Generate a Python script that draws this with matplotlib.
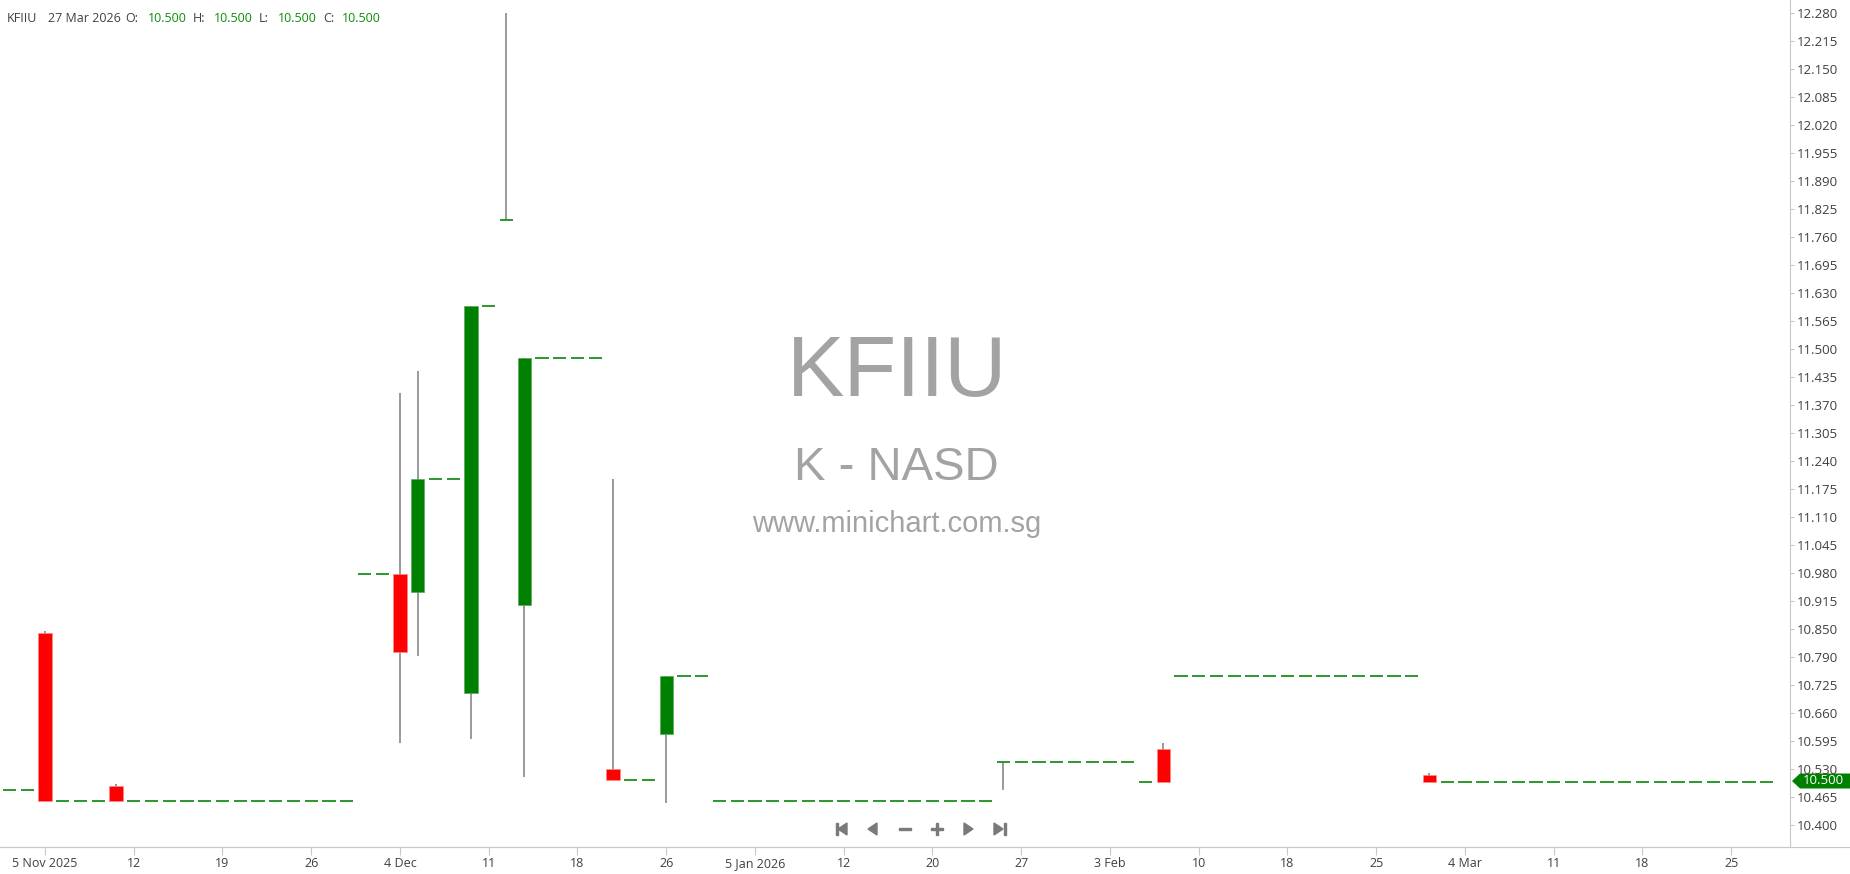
import numpy as np
import matplotlib
matplotlib.use("Agg")
import matplotlib.pyplot as plt
from matplotlib.patches import Rectangle, Polygon

# ---------------------------------------------------------------
# KFIIU daily OHLC, one entry per trading day (3 Nov 2025 .. 27 Mar 2026)
# ---------------------------------------------------------------
opens = [
    # Nov
    10.48, 10.48, 10.845, 10.455, 10.455, 10.455, 10.49, 10.455, 10.455, 10.455,
    10.455, 10.455, 10.455, 10.455, 10.455, 10.455, 10.455, 10.455, 10.455,
    # Dec
    10.455, 10.98, 10.98, 10.98, 10.94, 11.20, 11.20, 10.705, 11.60, 11.80,
    10.91, 11.48, 11.48, 11.48, 11.48, 10.53, 10.505, 10.505, 10.61, 10.745,
    10.745, 10.455,
    # Jan
    10.455, 10.455, 10.455, 10.455, 10.455, 10.455, 10.455, 10.455, 10.455, 10.455,
    10.455, 10.455, 10.455, 10.455, 10.455, 10.545, 10.545, 10.545, 10.545, 10.545,
    # Feb
    10.545, 10.545, 10.545, 10.50, 10.575, 10.745, 10.745, 10.745, 10.745, 10.745,
    10.745, 10.745, 10.745, 10.745, 10.745, 10.745, 10.745, 10.745, 10.745,
    # Mar
    10.515, 10.50, 10.50, 10.50, 10.50, 10.50, 10.50, 10.50, 10.50, 10.50,
    10.50, 10.50, 10.50, 10.50, 10.50, 10.50, 10.50, 10.50, 10.50, 10.50,
]
highs = [
    10.48, 10.48, 10.85, 10.455, 10.455, 10.455, 10.495, 10.455, 10.455, 10.455,
    10.455, 10.455, 10.455, 10.455, 10.455, 10.455, 10.455, 10.455, 10.455,
    10.455, 10.98, 10.98, 11.40, 11.45, 11.20, 11.20, 11.60, 11.60, 12.28,
    11.48, 11.48, 11.48, 11.48, 11.48, 11.20, 10.505, 10.505, 10.745, 10.745,
    10.745, 10.455,
    10.455, 10.455, 10.455, 10.455, 10.455, 10.455, 10.455, 10.455, 10.455, 10.455,
    10.455, 10.455, 10.455, 10.455, 10.455, 10.545, 10.545, 10.545, 10.545, 10.545,
    10.545, 10.545, 10.545, 10.50, 10.59, 10.745, 10.745, 10.745, 10.745, 10.745,
    10.745, 10.745, 10.745, 10.745, 10.745, 10.745, 10.745, 10.745, 10.745,
    10.52, 10.50, 10.50, 10.50, 10.50, 10.50, 10.50, 10.50, 10.50, 10.50,
    10.50, 10.50, 10.50, 10.50, 10.50, 10.50, 10.50, 10.50, 10.50, 10.50,
]
lows = [
    10.48, 10.48, 10.455, 10.455, 10.455, 10.455, 10.455, 10.455, 10.455, 10.455,
    10.455, 10.455, 10.455, 10.455, 10.455, 10.455, 10.455, 10.455, 10.455,
    10.455, 10.98, 10.98, 10.59, 10.79, 11.20, 11.20, 10.60, 11.60, 11.80,
    10.51, 11.48, 11.48, 11.48, 11.48, 10.505, 10.505, 10.505, 10.45, 10.745,
    10.745, 10.455,
    10.455, 10.455, 10.455, 10.455, 10.455, 10.455, 10.455, 10.455, 10.455, 10.455,
    10.455, 10.455, 10.455, 10.455, 10.455, 10.48, 10.545, 10.545, 10.545, 10.545,
    10.545, 10.545, 10.545, 10.50, 10.50, 10.745, 10.745, 10.745, 10.745, 10.745,
    10.745, 10.745, 10.745, 10.745, 10.745, 10.745, 10.745, 10.745, 10.745,
    10.50, 10.50, 10.50, 10.50, 10.50, 10.50, 10.50, 10.50, 10.50, 10.50,
    10.50, 10.50, 10.50, 10.50, 10.50, 10.50, 10.50, 10.50, 10.50, 10.50,
]
closes = [
    10.48, 10.48, 10.455, 10.455, 10.455, 10.455, 10.455, 10.455, 10.455, 10.455,
    10.455, 10.455, 10.455, 10.455, 10.455, 10.455, 10.455, 10.455, 10.455,
    10.455, 10.98, 10.98, 10.80, 11.20, 11.20, 11.20, 11.60, 11.60, 11.80,
    11.48, 11.48, 11.48, 11.48, 11.48, 10.505, 10.505, 10.505, 10.745, 10.745,
    10.745, 10.455,
    10.455, 10.455, 10.455, 10.455, 10.455, 10.455, 10.455, 10.455, 10.455, 10.455,
    10.455, 10.455, 10.455, 10.455, 10.455, 10.545, 10.545, 10.545, 10.545, 10.545,
    10.545, 10.545, 10.545, 10.50, 10.50, 10.745, 10.745, 10.745, 10.745, 10.745,
    10.745, 10.745, 10.745, 10.745, 10.745, 10.745, 10.745, 10.745, 10.745,
    10.50, 10.50, 10.50, 10.50, 10.50, 10.50, 10.50, 10.50, 10.50, 10.50,
    10.50, 10.50, 10.50, 10.50, 10.50, 10.50, 10.50, 10.50, 10.50, 10.50,
]

# x axis: a label every 5 sessions
xtick_bars = [2, 7, 12, 17, 22, 27, 32, 37, 42, 47, 52, 57, 62, 67, 72, 77, 82, 87, 92, 97]
xtick_labels = ["5 Nov 2025", "12", "19", "26", "4 Dec", "11", "18", "26",
                "5 Jan 2026", "12", "20", "27", "3 Feb", "10", "18", "25",
                "4 Mar", "11", "18", "25"]

# y axis labels, bottom to top
ytick_labels = ["10.400", "10.465", "10.530", "10.595", "10.660", "10.725", "10.790",
                "10.850", "10.915", "10.980", "11.045", "11.110", "11.175", "11.240",
                "11.305", "11.370", "11.435", "11.500", "11.565", "11.630", "11.695",
                "11.760", "11.825", "11.890", "11.955", "12.020", "12.085", "12.150",
                "12.215", "12.280"]

last_close = "10.500"
header_date = "27 Mar 2026"

UP = "#008000"
DOWN = "#ff0000"
WICK = "#7f7f7f"
TXT = "#404040"
VAL = "#0a8f0a"
AXIS = "#c8c8c8"
FONT = "Open Sans"

W, H = 1850, 874
fig = plt.figure(figsize=(W / 100, H / 100), dpi=100)
fig.patch.set_facecolor("white")

ax = fig.add_axes([0, 27 / H, 1790 / W, 847 / H])
ax.set_xlim(-0.535, (1790 - 9.5) / 17.75)
ax.set_ylim(10.349, 12.3093)

# ---- candles ----
body_w = 0.75
for i, (o, h, l, c) in enumerate(zip(opens, highs, lows, closes)):
    if h > l and (h > max(o, c) or l < min(o, c)):
        ax.vlines(i, l, h, color=WICK, lw=1.1, zorder=2)
    if c > o:
        ax.add_patch(Rectangle((i - body_w / 2, o), body_w, c - o, facecolor=UP,
                               edgecolor="#5aa85a", lw=0.5, zorder=3))
    elif c < o:
        ax.add_patch(Rectangle((i - body_w / 2, c), body_w, o - c, facecolor=DOWN,
                               edgecolor="#ff8a8a", lw=0.5, zorder=3))
    else:
        ax.hlines(c, i - body_w / 2, i + body_w / 2, color="#1a8f1a", lw=1.3, zorder=3)

# ---- axes styling ----
for s in ["top", "left"]:
    ax.spines[s].set_visible(False)
ax.spines["right"].set_color(AXIS)
ax.spines["bottom"].set_color(AXIS)

ax.yaxis.tick_right()
ax.set_yticks(np.linspace(10.4, 12.28, len(ytick_labels)))
ax.set_yticklabels(ytick_labels)
ax.tick_params(axis="y", length=3, width=0.8, color=AXIS, pad=2,
               labelsize=9.5, labelcolor=TXT)
ax.set_xticks(xtick_bars)
ax.set_xticklabels(xtick_labels)
ax.tick_params(axis="x", length=5.5, width=0.8, color=AXIS, pad=1.5,
               labelsize=9, labelcolor=TXT)
for lab in ax.get_xticklabels() + ax.get_yticklabels():
    lab.set_fontfamily(FONT)

# ---- overlay in pixel coordinates ----
ov = fig.add_axes([0, 0, 1, 1], zorder=-1)
ov.set_xlim(0, W)
ov.set_ylim(H, 0)
ov.axis("off")
ax.set_facecolor("none")

# bottom rule runs the full width
ov.plot([0, W], [847, 847], color=AXIS, lw=0.8)

# watermark
wm = "#a3a3a3"
ov.text(897, 396, "KFIIU", fontsize=62, color=wm, ha="center", va="baseline",
        family="Liberation Sans")
ov.text(896, 480, "K - NASD", fontsize=34, color=wm, ha="center", va="baseline",
        family="Liberation Sans")
ov.text(897, 532, "www.minichart.com.sg", fontsize=21, color=wm, ha="center",
        va="baseline", family="Liberation Sans")

# header line
hdr = [("KFIIU", 7, TXT), (header_date, 48, TXT), ("O:", 125, TXT), (last_close, 148, VAL),
       ("H:", 193, TXT), (last_close, 214, VAL), ("L:", 259, TXT), (last_close, 278, VAL),
       ("C:", 323, TXT), (last_close, 342, VAL)]
for s, x, col in hdr:
    ov.text(x, 18, s, fontsize=9, color=col, ha="left", va="center", family=FONT)

# last price badge on the price axis
ov.add_patch(Polygon([(1792, 781), (1800, 773.5), (W, 773.5), (W, 788.5), (1800, 788.5)],
                     closed=True, facecolor=UP, edgecolor="none"))
ov.text(1823, 781, last_close, fontsize=9.5, color="white", ha="center", va="center",
        family=FONT)

# navigation buttons
nav = "#7a7a7a"
yc = 829
ov.add_patch(Rectangle((835.5, yc - 6), 2, 12, color=nav))
ov.add_patch(Polygon([(838, yc), (847, yc - 6), (847, yc + 6)], color=nav))
ov.add_patch(Polygon([(868, yc), (877, yc - 6), (877, yc + 6)], color=nav))
ov.add_patch(Rectangle((899, yc - 1), 12, 2, color=nav))
ov.add_patch(Rectangle((931, yc - 1), 12, 2, color=nav))
ov.add_patch(Rectangle((936, yc - 6), 2, 12, color=nav))
ov.add_patch(Polygon([(973, yc), (964, yc - 6), (964, yc + 6)], color=nav))
ov.add_patch(Polygon([(1003, yc), (994, yc - 6), (994, yc + 6)], color=nav))
ov.add_patch(Rectangle((1003.5, yc - 6), 2, 12, color=nav))

fig.savefig("out.png", dpi=100, facecolor="white")
